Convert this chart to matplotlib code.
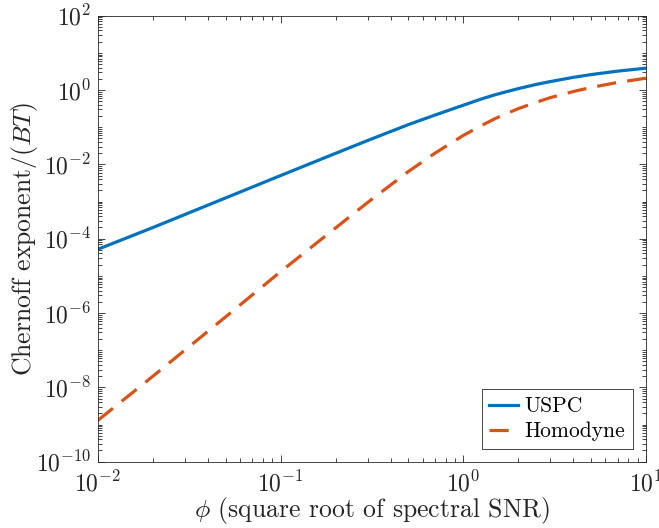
import numpy as np
import matplotlib
matplotlib.use("Agg")
import matplotlib.pyplot as plt
from matplotlib.ticker import FixedLocator, LogFormatterMathtext, NullFormatter

plt.rcParams['font.family'] = 'serif'
plt.rcParams['font.serif'] = ['cmr10', 'DejaVu Serif']
plt.rcParams['mathtext.fontset'] = 'cm'
plt.rcParams['axes.formatter.use_mathtext'] = True

############# DATOS #######################################
phi = [0.01, 0.02, 0.05, 0.1, 0.2, 0.3, 0.5, 0.7, 1.0, 1.25, 1.5, 1.75, 2.0,
       2.5, 3.0, 4.0, 5.0, 7.0, 10.0]
uspc = [5.2e-5, 2.0e-4, 1.25e-3, 5.0e-3, 1.98e-2, 4.4e-2, 0.117, 0.212, 0.39,
        0.57, 0.75, 0.92, 1.09, 1.41, 1.69, 2.19, 2.6, 3.22, 3.87]
homodyne = [1.3e-9, 2.0e-8, 7.9e-7, 1.3e-5, 1.95e-4, 9.5e-4, 6.4e-3, 0.020, 0.060,
            0.109, 0.172, 0.24, 0.315, 0.466, 0.625, 0.91, 1.17, 1.6, 2.08]

############# FIGURA ##################
fig = plt.figure(figsize=(6.59, 5.28), dpi=100)
ax = fig.add_axes([0.1487, 0.1256, 0.8315, 0.8447])

ax.plot(phi, uspc, color='#0072BD', lw=2.3, label='USPC')
ax.plot(phi, homodyne, color='#D95319', lw=2.3, dashes=(6, 3.5), label='Homodyne')

ax.set_xscale('log')
ax.set_yscale('log')
ax.set_xlim(1e-2, 1e1)
ax.set_ylim(1e-10, 1e2)

# ticks estilo matlab
ymaj = [10.0**k for k in range(-10, 3, 2)]
ymin = [m * 10.0**k for k in range(-10, 2) for m in range(1, 10)
        if not (m == 1 and k % 2 == 0)]
ax.yaxis.set_major_locator(FixedLocator(ymaj))
ax.yaxis.set_minor_locator(FixedLocator(ymin))
xmaj = [1e-2, 1e-1, 1e0, 1e1]
xmin = [m * 10.0**k for k in range(-2, 1) for m in range(2, 10)]
ax.xaxis.set_major_locator(FixedLocator(xmaj))
ax.xaxis.set_minor_locator(FixedLocator(xmin))
ax.xaxis.set_major_formatter(LogFormatterMathtext())
ax.yaxis.set_major_formatter(LogFormatterMathtext())
ax.xaxis.set_minor_formatter(NullFormatter())
ax.yaxis.set_minor_formatter(NullFormatter())

ax.tick_params(which='both', direction='in', top=True, right=True,
               colors='#262626', labelsize=17, width=0.6)
ax.tick_params(which='major', length=5, pad=5)
ax.tick_params(axis='x', which='major', pad=6.5)
ax.tick_params(which='minor', length=3)
for s in ax.spines.values():
    s.set_color('#262626')
    s.set_linewidth(0.6)

ax.set_xlabel(r'$\phi$ (square root of spectral SNR)', fontsize=18.5,
              color='#262626', labelpad=-1)
ax.set_ylabel(r'Chernoff exponent$/(BT)$', fontsize=18.5, color='#262626',
              labelpad=-3)

leg = ax.legend(loc='lower right', fontsize=15.5, fancybox=False, framealpha=1,
                edgecolor='#262626', handlelength=1.35, handletextpad=0.3,
                borderaxespad=0.6, labelspacing=0.25, borderpad=0.35)
leg.get_frame().set_linewidth(0.6)

plt.savefig('out.png', dpi=100)
